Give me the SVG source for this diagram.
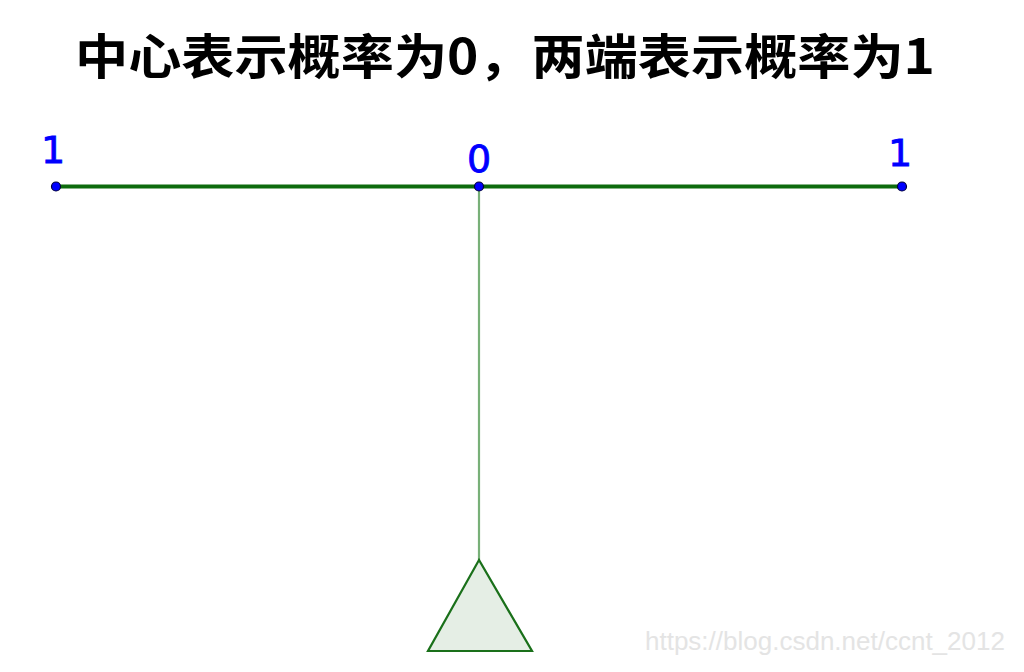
<svg xmlns="http://www.w3.org/2000/svg" width="1024" height="672" viewBox="0 0 1024 672">
  <style>
    .title { font-family: "Noto Sans CJK SC", "Noto Sans", sans-serif; font-weight: bold; font-size: 48px; fill: #000; }
    .lbl { font-family: "DejaVu Sans", "Liberation Sans", sans-serif; font-size: 38px; fill: #0000ff; text-anchor: middle; stroke: #0000ff; stroke-width: 0.8; }
    .dot { fill: #0000ff; stroke: #00003a; stroke-width: 1.2; }
    .wm { font-family: "Liberation Sans", Arial, sans-serif; font-size: 26px; fill: #e4e4e4; }
  </style>
  <rect width="1024" height="672" fill="#ffffff"/>
  <g id="title">
    <text class="title" x="75" y="74" textLength="860" lengthAdjust="spacingAndGlyphs">中心表示概率为0，两端表示概率为1</text>
  </g>
  <g id="connectors">
    <line x1="56" y1="186.5" x2="902" y2="186.5" stroke="#0d6b0d" stroke-width="4"/>
    <line x1="479" y1="187" x2="479" y2="560" stroke="#78b078" stroke-width="2.2"/>
  </g>
  <g id="fulcrum">
    <polygon points="479,560 428,651 532,651" fill="#e5eee5" stroke="#1a701a" stroke-width="2.2"/>
  </g>
  <g id="left-end">
    <circle class="dot" cx="56" cy="186.5" r="4.5"/>
    <text class="lbl" x="53" y="163">1</text>
  </g>
  <g id="center">
    <circle class="dot" cx="479" cy="186.5" r="4.5"/>
    <text class="lbl" x="479" y="172">0</text>
  </g>
  <g id="right-end">
    <circle class="dot" cx="902" cy="186.5" r="4.5"/>
    <text class="lbl" x="900" y="166">1</text>
  </g>
  <text class="wm" x="645" y="650">https://blog.csdn.net/ccnt_2012</text>
</svg>
